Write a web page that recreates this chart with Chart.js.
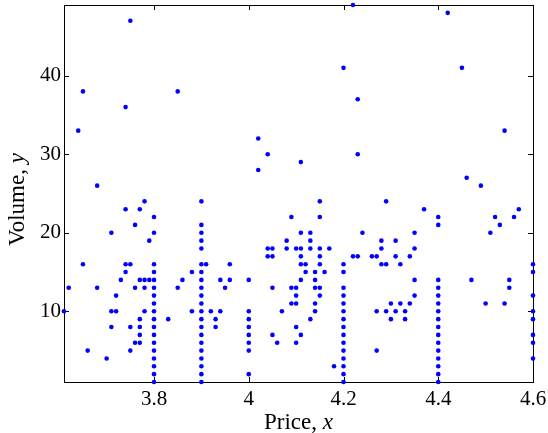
<!DOCTYPE html>
<html>
<head>
<meta charset="utf-8">
<script src="https://cdn.jsdelivr.net/npm/chart.js@4/dist/chart.umd.min.js"></script>
<style>
  html, body { margin: 0; padding: 0; background: #fff; }
  canvas { display: block; }
</style>
</head>
<body>
<canvas id="myChart" width="548" height="433"></canvas>
<script>
// prices (x) and the volumes (y) seen at each price
const prices = [
  3.61, 3.62, 3.64, 3.65, 3.66, 3.68, 3.70, 3.71, 3.72, 3.73,
  3.74, 3.75, 3.76, 3.77, 3.78, 3.79, 3.80, 3.83, 3.85, 3.86,
  3.88, 3.90, 3.91, 3.92, 3.93, 3.94, 3.95, 3.96, 4.00, 4.02,
  4.04, 4.05, 4.06, 4.07, 4.08, 4.09, 4.10, 4.11, 4.12, 4.13,
  4.14, 4.15, 4.16, 4.17, 4.18, 4.20, 4.22, 4.23, 4.24, 4.26,
  4.27, 4.28, 4.29, 4.30, 4.31, 4.32, 4.33, 4.34, 4.35, 4.37,
  4.40, 4.42, 4.45, 4.46, 4.47, 4.49, 4.50, 4.51, 4.52, 4.53,
  4.54, 4.55, 4.56, 4.57, 4.60
];
const volumes = [
  [10], [13], [33], [38, 16], [5], [26, 13], [4], [20, 10, 8], [12, 10], [14],
  [36, 23, 16, 15], [47, 16, 8, 5], [21, 13, 6], [23, 14, 9, 8, 7, 6], [24, 14, 13, 10], [19, 14],
  [22, 20, 16, 15, 14, 13, 12, 11, 10, 9, 8, 7, 6, 5, 4, 3, 2, 1],
  [9], [38, 13], [14],
  [15, 10],
  [24, 21, 20, 19, 18, 16, 15, 14, 13, 12, 11, 10, 9, 8, 7, 6, 5, 4, 3, 2, 1],
  [16], [10], [9, 8], [14, 10], [13], [16, 14],
  [14, 10, 9, 8, 7, 6, 5, 2], [32, 28],
  [30, 18, 17], [18, 17, 13, 7], [6], [10], [19, 18], [22, 13, 11], [18, 13, 12, 11, 8, 6],
  [29, 20, 18, 17, 16, 14, 7], [16, 15], [20, 19, 18, 9],
  [15, 14, 13, 11, 10], [24, 22, 18, 17, 16, 13, 12], [15], [18], [3],
  [41, 16, 15, 13, 12, 11, 10, 9, 8, 7, 6, 5, 4, 3, 2, 1],
  [49, 17], [37, 30, 17], [20], [17],
  [17, 10, 5], [19, 18, 16], [24, 16, 10], [11, 9], [19, 17, 10], [16, 11], [10, 9], [17, 11],
  [20, 18, 14, 12], [23],
  [22, 21, 14, 13, 12, 11, 10, 9, 8, 7, 6, 5, 4, 3, 2, 1],
  [48], [41], [27], [14], [26], [11], [20], [22], [21],
  [33, 11], [14, 13], [22], [23],
  [16, 15, 12, 10, 9, 7, 6, 4]
];
const xTicks = [3.8, 4, 4.2, 4.4, 4.6];
const yTicks = [10, 20, 30, 40];
const xTitle = ['Price, ', 'x'];
const yTitle = ['Volume, ', 'y'];

const FONT = "'Liberation Serif', 'DejaVu Serif', serif";

const points = [];
prices.forEach((p, i) => {
  volumes[i].forEach(v => points.push({ x: p, y: v }));
});

// draw "normal + italic" title pieces centred on (0,0)
function drawTitle(ctx, parts, size) {
  const fonts = [size + 'px ' + FONT, 'italic ' + size + 'px ' + FONT];
  let total = 0;
  const widths = parts.map((t, i) => {
    ctx.font = fonts[i];
    const w = ctx.measureText(t).width;
    total += w;
    return w;
  });
  let xPos = -total / 2;
  ctx.textBaseline = 'middle';
  ctx.textAlign = 'left';
  ctx.fillStyle = '#000';
  parts.forEach((t, i) => {
    ctx.font = fonts[i];
    ctx.fillText(t, xPos, 0);
    xPos += widths[i];
  });
}

const framePlugin = {
  id: 'frame',
  beforeDatasetsDraw(chart) {
    const { ctx, chartArea: a, scales } = chart;
    const tl = 5;
    ctx.save();
    ctx.strokeStyle = '#000';
    ctx.lineWidth = 1;
    ctx.strokeRect(a.left + 0.5, a.top + 0.5, a.right - a.left, a.bottom - a.top);
    ctx.beginPath();
    xTicks.forEach(v => {
      const px = Math.round(scales.x.getPixelForValue(v)) + 0.5;
      ctx.moveTo(px, a.bottom); ctx.lineTo(px, a.bottom - tl);
      ctx.moveTo(px, a.top); ctx.lineTo(px, a.top + tl);
    });
    yTicks.forEach(v => {
      const py = Math.round(scales.y.getPixelForValue(v)) + 0.5;
      ctx.moveTo(a.left, py); ctx.lineTo(a.left + tl, py);
      ctx.moveTo(a.right, py); ctx.lineTo(a.right - tl, py);
    });
    ctx.stroke();
    ctx.restore();
  },
  afterDraw(chart) {
    const { ctx, chartArea: a } = chart;
    ctx.save();
    ctx.translate((a.left + a.right) / 2, 423);
    drawTitle(ctx, xTitle, 23);
    ctx.restore();
    ctx.save();
    ctx.translate(18, (a.top + a.bottom) / 2 + 6);
    ctx.rotate(-Math.PI / 2);
    drawTitle(ctx, yTitle, 23);
    ctx.restore();
  }
};

const config = {
  type: 'scatter',
  data: {
    datasets: [{
      data: points,
      backgroundColor: '#0000ff',
      borderWidth: 0,
      pointRadius: 2.3,
      clip: false
    }]
  },
  options: {
    responsive: false,
    animation: false,
    devicePixelRatio: 1,
    layout: { padding: { left: 0, right: 15, top: 5, bottom: 0 } },
    plugins: { legend: { display: false }, tooltip: { enabled: false } },
    scales: {
      x: {
        type: 'linear',
        min: 3.61,
        max: 4.6,
        afterBuildTicks: s => { s.ticks = xTicks.map(v => ({ value: v })); },
        afterFit: s => { s.height = 51; s.paddingLeft = 0; s.paddingRight = 0; },
        grid: { display: false, drawTicks: false },
        border: { display: false },
        ticks: {
          color: '#000',
          font: { family: FONT, size: 21 },
          padding: 5,
          maxRotation: 0,
          callback: v => String(v)
        }
      },
      y: {
        type: 'linear',
        min: 1,
        max: 49,
        afterBuildTicks: s => { s.ticks = yTicks.map(v => ({ value: v })); },
        afterFit: s => { s.width = 64; s.paddingTop = 0; s.paddingBottom = 0; },
        grid: { display: false, drawTicks: false },
        border: { display: false },
        ticks: {
          color: '#000',
          font: { family: FONT, size: 21 },
          padding: 3,
          callback: v => String(v)
        }
      }
    }
  },
  plugins: [framePlugin]
};

const ctx = document.getElementById('myChart').getContext('2d');
const myChart = new Chart(ctx, config);
</script>
</body>
</html>
